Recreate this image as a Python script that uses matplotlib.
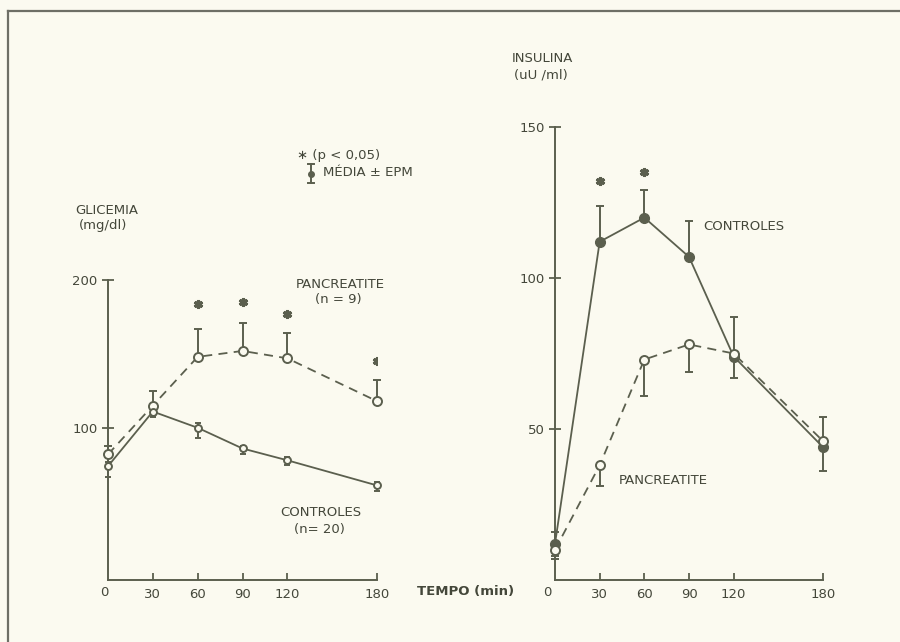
import matplotlib
matplotlib.use('Agg')
import matplotlib.pyplot as plt
from matplotlib.lines import Line2D

# Dados
tempo = [0, 30, 60, 90, 120, 180]
xticks = [30, 60, 90, 120, 180]

# Glicemia (mg/dl)
gli_panc = [82, 115, 148, 152, 147, 118]
gli_panc_lo = [0, 0, 0, 0, 0, 0]
gli_panc_hi = [6, 10, 19, 19, 17, 14]
gli_ctrl = [74, 111, 100, 86, 78, 61]
gli_ctrl_lo = [7, 4, 7, 4, 3, 4]
gli_ctrl_hi = [3, 2, 3, 2, 2, 2]
gli_sig_t = [60, 90, 120, 180]
gli_sig_y = [184, 185, 177, 145]

# Insulina (uU/ml)
ins_ctrl = [12, 112, 120, 107, 74, 44]
ins_ctrl_lo = [4, 0, 0, 0, 7, 8]
ins_ctrl_hi = [4, 12, 9, 12, 13, 10]
ins_panc = [10, 38, 73, 78, 75, 46]
ins_panc_lo = [3, 7, 12, 9, 0, 0]
ins_panc_hi = [0, 0, 0, 0, 0, 0]
ins_sig_t = [30, 60]
ins_sig_y = [132, 135]

W, H = 900, 642
bg = '#fbfaf0'
lc = '#5b5f4e'
tc = '#44473a'
fs = 9.5

plt.rcParams['font.family'] = ['DejaVu Sans']

fig = plt.figure(figsize=(W / 100, H / 100), dpi=100, facecolor=bg)


def fx(x):
    return x / W


def fy(y):
    return 1 - y / H


def ftext(x, y, s, **kw):
    kw.setdefault('fontsize', fs)
    kw.setdefault('color', tc)
    kw.setdefault('va', 'center')
    fig.text(fx(x), fy(y), s, **kw)


def estilo(ax, ylim, yticks):
    ax.set_facecolor(bg)
    ax.set_xlim(0, 180)
    ax.set_ylim(*ylim)
    for s in ['top', 'right']:
        ax.spines[s].set_visible(False)
    for s in ['left', 'bottom']:
        ax.spines[s].set_color(lc)
        ax.spines[s].set_linewidth(1.4)
    ax.set_xticks(xticks)
    ax.set_yticks(yticks)
    ax.tick_params(axis='x', direction='in', length=5, width=1.3, colors=lc,
                   labelcolor=tc, labelsize=fs, pad=6)
    ax.tick_params(axis='y', direction='inout', length=9, width=1.3, colors=lc,
                   labelcolor=tc, labelsize=fs, pad=3)


# Painel glicemia
ax1 = fig.add_axes([fx(108), fy(580), fx(377) - fx(108), (580 - 280) / H])
estilo(ax1, (-3, 200), [100, 200])
ax1.errorbar(tempo, gli_panc, yerr=[gli_panc_lo, gli_panc_hi], fmt='none',
             ecolor=lc, elinewidth=1.4, capsize=3, capthick=1.4, zorder=2, clip_on=False)
ax1.errorbar(tempo, gli_ctrl, yerr=[gli_ctrl_lo, gli_ctrl_hi], fmt='none',
             ecolor=lc, elinewidth=1.4, capsize=2.5, capthick=1.4, zorder=2, clip_on=False)
ax1.plot(tempo, gli_panc, ls=(0, (5, 3.5)), color=lc, lw=1.3, marker='o', ms=6.5,
         mfc=bg, mec=lc, mew=1.4, zorder=3, clip_on=False)
ax1.plot(tempo, gli_ctrl, ls='-', color=lc, lw=1.3, marker='o', ms=5,
         mfc=bg, mec=lc, mew=1.4, zorder=3, clip_on=False)
ax1.plot(gli_sig_t, gli_sig_y, ls='none', marker=(6, 2, 0), ms=6.5, mew=2.2, color=lc)

# Painel insulina
ax2 = fig.add_axes([fx(555), fy(580), fx(823) - fx(555), (580 - 127) / H])
estilo(ax2, (0, 150), [50, 100, 150])
ax2.errorbar(tempo, ins_ctrl, yerr=[ins_ctrl_lo, ins_ctrl_hi], fmt='none',
             ecolor=lc, elinewidth=1.4, capsize=3, capthick=1.4, zorder=2, clip_on=False)
ax2.errorbar(tempo, ins_panc, yerr=[ins_panc_lo, ins_panc_hi], fmt='none',
             ecolor=lc, elinewidth=1.4, capsize=3, capthick=1.4, zorder=2, clip_on=False)
ax2.plot(tempo, ins_ctrl, ls='-', color=lc, lw=1.3, marker='o', ms=7,
         mfc=lc, mec=lc, zorder=3, clip_on=False)
ax2.plot(tempo, ins_panc, ls=(0, (5, 3.5)), color=lc, lw=1.3, marker='o', ms=6.5,
         mfc=bg, mec=lc, mew=1.4, zorder=4, clip_on=False)
ax2.plot(ins_sig_t, ins_sig_y, ls='none', marker=(6, 2, 0), ms=6.5, mew=2.2, color=lc)

# Textos
ftext(75, 211, 'GLICEMIA')
ftext(79, 226, '(mg/dl)')
ftext(340, 285, 'PANCREATITE', ha='center')
ftext(338, 299, '(n = 9)', ha='center')
ftext(321, 513, 'CONTROLES', ha='center')
ftext(319, 529, '(n= 20)', ha='center')
ftext(104, 593, '0', ha='center')
ftext(547, 593, '0', ha='center')
ftext(466, 592, 'TEMPO (min)', ha='center', fontweight='bold')
ftext(512, 58, 'INSULINA')
ftext(514, 75, '(uU /ml)')
ftext(703, 227, 'CONTROLES')
ftext(619, 481, 'PANCREATITE')
ftext(297, 155, '∗ (p < 0,05)')
ftext(323, 173, 'MÉDIA ± EPM')

# Símbolo da legenda (média ± EPM)
fig.add_artist(Line2D([fx(311), fx(311)], [fy(164), fy(183)], color=lc, lw=1.4))
fig.add_artist(Line2D([fx(308), fx(314)], [fy(164), fy(164)], color=lc, lw=1.4))
fig.add_artist(Line2D([fx(308), fx(314)], [fy(183), fy(183)], color=lc, lw=1.4))
fig.add_artist(Line2D([fx(311)], [fy(174)], marker='o', ms=4, mfc=lc, mec=lc))

# Moldura (topo e esquerda)
fig.add_artist(Line2D([fx(8), fx(8)], [fy(11), 0], color='#6e6f66', lw=1.6))
fig.add_artist(Line2D([fx(8), 1], [fy(11), fy(11)], color='#6e6f66', lw=1.6))

fig.savefig('out.png', dpi=100, facecolor=bg)
